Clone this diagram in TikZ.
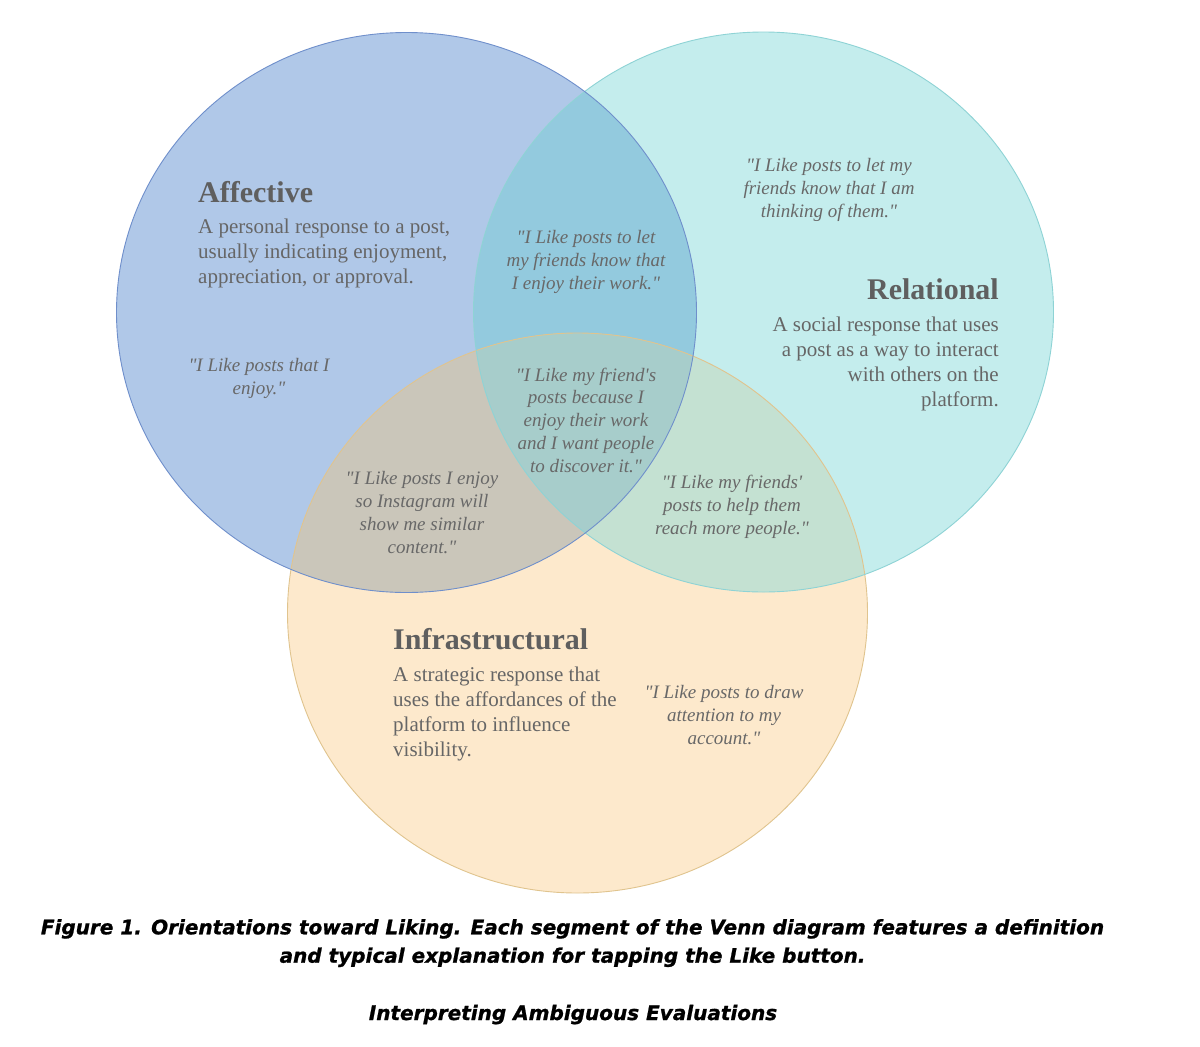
\documentclass[tikz,border=0pt]{standalone}
\usepackage{fontspec}
\setmainfont{Liberation Serif}
\newfontfamily\capfont{DejaVu Sans}[BoldFont={DejaVu Sans Bold},ItalicFont={DejaVu Sans Oblique},BoldItalicFont={DejaVu Sans Bold Oblique},BoldItalicFeatures={FakeBold=1}]
\definecolor{Aonly}{HTML}{B0C8E8}
\definecolor{Ronly}{HTML}{C4EDED}
\definecolor{Ionly}{HTML}{FDE9CC}
\definecolor{ARc}{HTML}{93CADE}
\definecolor{AIc}{HTML}{CAC6BA}
\definecolor{RIc}{HTML}{C4E1D2}
\definecolor{ARIc}{HTML}{A7CDCB}
\definecolor{Aline}{HTML}{6F8FCB}
\definecolor{Rline}{HTML}{8ED3D5}
\definecolor{Iline}{HTML}{E0C48E}
\definecolor{headc}{HTML}{5F5F5F}
\definecolor{bodyc}{HTML}{666666}
\definecolor{quotec}{HTML}{686868}
\newcommand{\dq}{\textquotedbl}
\begin{document}
\begin{tikzpicture}[x=1pt,y=-1pt,
  head/.style={font=\fontsize{30}{36}\selectfont\bfseries, text=headc, inner sep=0pt},
  body/.style={font=\fontsize{21}{25}\selectfont, text=bodyc, inner sep=0pt},
  quote/.style={font=\fontsize{19}{22.75}\selectfont\itshape, text=quotec, align=center, inner sep=0pt},
  captext/.style={font=\capfont\bfseries\itshape\fontsize{20}{28.4}\selectfont, text=black, align=center, inner sep=0pt},
  rim/.style={line width=0.9pt}]
\useasboundingbox (0,0) rectangle (1200,1047);
\fill[white] (0,0) rectangle (1200,1047);
\def\shA{(406.5,312.5) ellipse [x radius=290pt, y radius=280pt]}
\def\shR{(763.5,312) ellipse [x radius=290pt, y radius=280pt]}
\def\shI{(577.5,613) ellipse [x radius=290pt, y radius=280pt]}
\fill[Aonly] \shA;
\fill[Ronly] \shR;
\fill[Ionly] \shI;
\begin{scope}\clip \shA; \fill[ARc] \shR; \end{scope}
\begin{scope}\clip \shA; \fill[AIc] \shI; \end{scope}
\begin{scope}\clip \shR; \fill[RIc] \shI; \end{scope}
\begin{scope}\clip \shA; \clip \shR; \fill[ARIc] \shI; \end{scope}
\draw[rim, Iline] \shI;
\draw[rim, Rline] \shR;
\draw[rim, Aline] \shA;

% Affective
\node[head, anchor=base west] (ahead) at (198,202) {Affective};
\node[body, anchor=west, align=left] (abody) at (198,253.5) {A personal response to a post,\\usually indicating enjoyment,\\appreciation, or approval.};
\node[quote] (aquote) at (259,378.5) {\dq I Like posts that I\\enjoy.\dq};
% Affective & Relational
\node[quote] (arquote) at (586,262) {\dq I Like posts to let\\my friends know that\\I enjoy their work.\dq};
% Relational
\node[quote] (rquote) at (829,190) {\dq I Like posts to let my\\friends know that I am\\thinking of them.\dq};
\node[head, anchor=base east] (rhead) at (999,299.5) {Relational};
\node[body, anchor=east, align=right] (rbody) at (999,363.5) {A social response that uses\\a post as a way to interact\\with others on the\\platform.};
% Center
\node[quote] (ariquote) at (586,420) {\dq I Like my friend\textquotesingle s\\posts because I\\enjoy their work\\and I want people\\to discover it.\dq};
% Affective & Infrastructural
\node[quote] (aiquote) at (422,512.5) {\dq I Like posts I enjoy\\so Instagram will\\show me similar\\content.\dq};
% Relational & Infrastructural
\node[quote] (riquote) at (732,507) {\dq I Like my friends\textquotesingle\\posts to help them\\reach more people.\dq};
% Infrastructural
\node[head, anchor=base west] (ihead) at (393,649) {Infrastructural};
\node[body, anchor=west, align=left] (ibody) at (393,713.5) {A strategic response that\\uses the affordances of the\\platform to influence\\visibility.};
\node[quote] (iquote) at (724,715) {\dq I Like posts to draw\\attention to my\\account.\dq};

% Caption
\node[captext, anchor=base] (cap1) at (572.5,934.3) {Figure 1. Orientations toward Liking. Each segment of the Venn diagram features a definition};
\node[captext, anchor=base] (cap2) at (572.5,962.7) {and typical explanation for tapping the Like button.};
\node[captext, anchor=base] (cap3) at (573,1020) {Interpreting Ambiguous Evaluations};
\end{tikzpicture}
\end{document}
